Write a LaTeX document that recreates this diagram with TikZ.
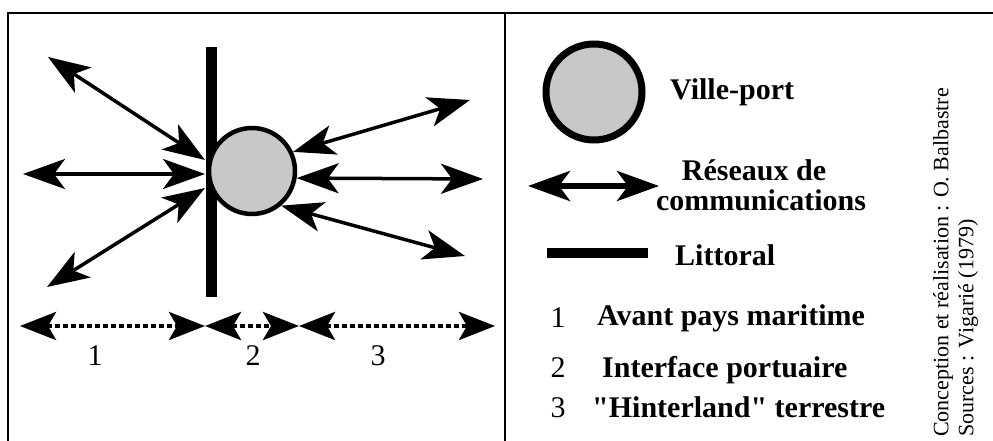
\documentclass[tikz,border=0pt]{standalone}
\usepackage{fontspec}
\setmainfont{Liberation Serif}
\usetikzlibrary{arrows.meta}

\definecolor{portgray}{RGB}{200,200,200}

\tikzset{
	frameline/.style={line width=2.5pt},
	port/.style={shape=circle, draw=black, fill=portgray, line width=4.5pt, inner sep=0pt},
	coastbar/.style={shape=rectangle, fill=black, inner sep=0pt},
	link/.style={line width=3.5pt, {Stealth[length=42pt,width=30pt,inset=11pt]}-{Stealth[length=42pt,width=30pt,inset=11pt]}},
	zone/.style={line width=4.5pt, dash pattern=on 5pt off 3pt, {Stealth[length=36pt,width=28pt,inset=8pt]}-{Stealth[length=36pt,width=28pt,inset=8pt]}},
	digit/.style={inner sep=0pt, font=\fontsize{30}{34}\selectfont},
	legendtext/.style={inner sep=0pt, font=\fontsize{30}{34}\selectfont\bfseries},
	credit/.style={inner sep=0pt, font=\fontsize{22}{26}\selectfont}
}

\begin{document}
\begin{tikzpicture}[x=1pt, y=-1pt]
	
	\useasboundingbox (0,0) rectangle (993,441);
	
	% frame
	\draw[frameline] (8,441) -- (8,13) -- (993,13);
	\draw[frameline] (505,13) -- (505,441);
	
	% model
	\node[coastbar, minimum width=11pt, minimum height=249pt] (coast) at (211,172) {};
	\node[port, minimum size=86pt] (port) at (252,171) {};
	
	\coordinate (nw) at (48,57);
	\coordinate (w)  at (23,174);
	\coordinate (sw) at (47,287);
	\coordinate (nw-in) at (205,160);
	\coordinate (w-in)  at (205,174);
	\coordinate (sw-in) at (205,188);
	\coordinate (ne) at (470,100);
	\coordinate (e)  at (483,179);
	\coordinate (se) at (465,256);
	
	\path[link] (nw) edge (nw-in);
	\path[link] (w)  edge (w-in);
	\path[link] (sw) edge (sw-in);
	\path[link] (port.25)  edge (ne);
	\path[link] (port.-9)  edge (e);
	\path[link] (port.-50) edge (se);
	
	% zones
	\coordinate (z0) at (20,326);
	\coordinate (z1) at (205,326);
	\coordinate (z2) at (299,326);
	\coordinate (z3) at (495,326);
	
	\path[zone] (z0) edge (z1);
	\path[zone] (z1) edge (z2);
	\path[zone] (z2) edge (z3);
	
	\node[digit] (n1) at (95,356)  {1};
	\node[digit] (n2) at (253,356) {2};
	\node[digit] (n3) at (378,356) {3};
	
	% legend
	\node[port, minimum size=96pt, line width=7pt] (leg-port) at (594,92) {};
	\node[legendtext, anchor=base west] (t-port) at (670,100) {Ville-port};
	
	\coordinate (leg-a) at (528,186);
	\coordinate (leg-b) at (659,186);
	\path[link, line width=6pt] (leg-a) edge (leg-b);
	\node[legendtext, anchor=base] (t-res1) at (754,180) {Réseaux de};
	\node[legendtext, anchor=base] (t-res2) at (761,210) {communications};
	
	\node[coastbar, minimum width=101pt, minimum height=10pt] (leg-coast) at (597,253) {};
	\node[legendtext, anchor=base west] (t-coast) at (675,265) {Littoral};
	
	\node[digit, anchor=base] (k1) at (558,327) {1};
	\node[legendtext, anchor=base west] (t-z1) at (597,325) {Avant pays maritime};
	\node[digit, anchor=base] (k2) at (558,377) {2};
	\node[legendtext, anchor=base west] (t-z2) at (602,377) {Interface portuaire};
	\node[digit, anchor=base] (k3) at (558,417) {3};
	\node[legendtext, anchor=base west] (t-z3) at (592,417) {\textquotedbl Hinterland\textquotedbl{} terrestre};
	
	% credits
	\node[credit, rotate=90, anchor=west] (c1) at (943,437) {Conception et réalisation : O. Balbastre};
	\node[credit, rotate=90, anchor=west] (c2) at (968,437) {Sources : Vigarié (1979)};
	
\end{tikzpicture}
\end{document}
